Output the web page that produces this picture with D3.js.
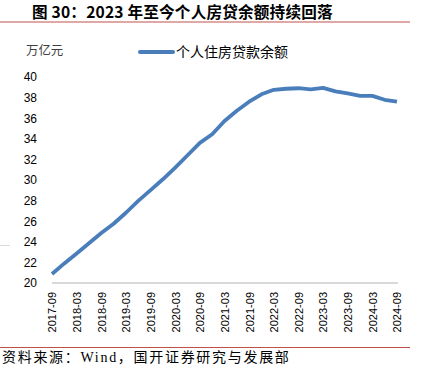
<!DOCTYPE html>
<html>
<head>
<meta charset="utf-8">
<script src="https://cdn.jsdelivr.net/npm/d3@7"></script>
<style>
  body { margin: 0; background: #fff; }
  svg { display: block; }
  .cjk { font-family: "Noto Sans CJK SC", sans-serif; }
</style>
</head>
<body>
<svg id="chart" width="423" height="370"></svg>
<script>
// quarterly balance, trillion yuan
var quarters = ["2017-09","2017-12","2018-03","2018-06","2018-09","2018-12",
  "2019-03","2019-06","2019-09","2019-12","2020-03","2020-06","2020-09","2020-12",
  "2021-03","2021-06","2021-09","2021-12","2022-03","2022-06","2022-09","2022-12",
  "2023-03","2023-06","2023-09","2023-12","2024-03","2024-06","2024-09"];
var balance = [20.87, 21.9, 22.86, 23.86, 24.85, 25.75,
  26.82, 27.97, 29.02, 30.07, 31.2, 32.4, 33.6, 34.44,
  35.73, 36.73, 37.6, 38.32, 38.76, 38.86, 38.91, 38.8,
  38.94, 38.6, 38.41, 38.17, 38.17, 37.79, 37.6];
var yTicks = [20, 22, 24, 26, 28, 30, 32, 34, 36, 38, 40];
var seriesName = "个人住房贷款余额";
var titleText = "图 30：2023 年至今个人房贷余额持续回落";
var unitText = "万亿元";
var sourceText = "资料来源：Wind，国开证券研究与发展部";

var svg = d3.select("#chart");
var blue = "#4a7ebb";

var x = d3.scalePoint().domain(quarters).range([52, 397]);
var y = d3.scaleLinear().domain([20, 40]).range([283, 77]);

// title + red rules
svg.append("text").attr("class", "cjk")
  .attr("x", 32).attr("y", 18)
  .attr("font-size", 15.6).attr("font-weight", "bold").attr("fill", "#000")
  .attr("letter-spacing", 0.2)
  .text(titleText);
svg.append("line").attr("x1", 0).attr("x2", 410).attr("y1", 22).attr("y2", 22)
  .attr("stroke", "#c0504d").attr("stroke-width", 1.2);
svg.append("line").attr("x1", 0).attr("x2", 410).attr("y1", 347.5).attr("y2", 347.5)
  .attr("stroke", "#c0504d").attr("stroke-width", 1.2);

// stray grey mark at left
svg.append("line").attr("x1", 0).attr("x2", 10).attr("y1", 245.5).attr("y2", 245.5)
  .attr("stroke", "#d9d9d9").attr("stroke-width", 1);

// unit
svg.append("text").attr("class", "cjk")
  .attr("x", 26).attr("y", 55).attr("font-size", 12.4).attr("fill", "#404040")
  .text(unitText);

// y axis (labels only)
var yAxis = d3.axisLeft(y).tickValues(yTicks).tickSize(0).tickPadding(0);
var gy = svg.append("g").attr("transform", "translate(37,0)").call(yAxis);
gy.select(".domain").remove();
gy.selectAll("text").attr("font-family", "Liberation Sans, Arial, sans-serif")
  .attr("font-size", 12).attr("fill", "#000");

// x axis
var xAxis = d3.axisBottom(x)
  .tickValues(quarters.filter(function(d, i) { return i % 2 == 0; }))
  .tickSize(0).tickPadding(0);
var gx = svg.append("g").attr("transform", "translate(0,283)").call(xAxis);
gx.select(".domain").attr("d", "M52,0H398").attr("stroke", "#d9d9d9").attr("stroke-width", 2);
gx.selectAll("text")
  .attr("font-family", "Liberation Sans, Arial, sans-serif")
  .attr("font-size", 11).attr("fill", "#000")
  .attr("transform", "rotate(-90)")
  .attr("text-anchor", "end")
  .attr("dy", "0.35em")
  .attr("x", -9).attr("y", 0);

// line
var line = d3.line()
  .x(function(d, i) { return x(quarters[i]); })
  .y(function(d) { return y(d); });
svg.append("path").datum(balance)
  .attr("d", line)
  .attr("fill", "none").attr("stroke", blue).attr("stroke-width", 3.8)
  .attr("stroke-linejoin", "round");

// legend
svg.append("line").attr("x1", 140).attr("x2", 173).attr("y1", 52).attr("y2", 52)
  .attr("stroke", blue).attr("stroke-width", 4).attr("stroke-linecap", "round");
svg.append("text").attr("class", "cjk")
  .attr("x", 176).attr("y", 57).attr("font-size", 14).attr("fill", "#000")
  .text(seriesName);

// source
svg.append("text")
  .attr("font-family", "Liberation Serif, Noto Sans CJK SC, serif")
  .attr("x", 2).attr("y", 362).attr("font-size", 14).attr("letter-spacing", 1.7)
  .attr("fill", "#000")
  .text(sourceText);
</script>
</body>
</html>
